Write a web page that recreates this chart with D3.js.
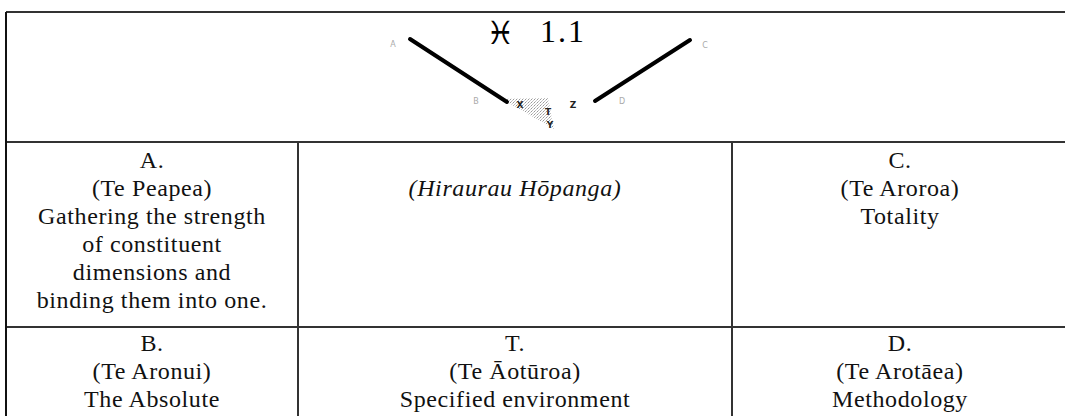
<!DOCTYPE html>
<style>* {padding:0; margin:0; border: 0; outline: 0;} body {background:#fff;}</style>
<body>
<script src="https://d3js.org/d3.v7.min.js"></script>
<script>
// table text, row by row, cell by cell
titleSign = "\u2653\uFE0E"
titleNum = "1.1"
rowOne = [
  ["A.", "(Te Peapea)", "Gathering the strength", "of constituent", "dimensions and", "binding them into one."],
  ["", "(Hiraurau Hōpanga)"],
  ["C.", "(Te Aroroa)", "Totality"]
]
rowTwo = [
  ["B.", "(Te Aronui)", "The Absolute"],
  ["T.", "(Te Āotūroa)", "Specified environment"],
  ["D.", "(Te Arotāea)", "Methodology"]
]
italicCells = [[false, true, false], [false, false, false]]

// diagram, in drawing units
diagLines = [[[20, 1], [117, 64]], [[205, 63], [300, 2]]]
diagShade = [[112, 61], [158, 60], [164, 91]]
diagLabels = [
  ["A", 3, 6, false], ["B", 86, 63, false], ["X", 130, 67, true], ["T", 158, 74, true],
  ["Y", 160, 87, true], ["Z", 183, 67, true], ["D", 232, 63, false], ["C", 315, 7, false]
]
</script>
<script>
width = 1065
height = 416

colEdges = [6, 298, 732, 1068]
rowEdges = [12, 142, 327, 440]
lineGap = 28
firstLine = [0, 26, 24]
serif = "'Liberation Serif', 'Times New Roman', Times, serif"

svg = d3.select('body').append('svg')
  .attr('width', width)
  .attr('height', height)

x = d3.scaleLinear().domain([0, 320]).range([390, 710])
y = d3.scaleLinear().domain([0, 92]).range([38, 130])

defs = svg.append('defs')
pat = defs.append('pattern')
  .attr('id', 'stip')
  .attr('width', 3).attr('height', 3)
  .attr('patternUnits', 'userSpaceOnUse')
pat.append('rect').attr('width', 1).attr('height', 1).attr('fill', '#999')
pat.append('rect').attr('x', 2).attr('y', 1).attr('width', 1).attr('height', 1).attr('fill', '#c8c8c8')
pat.append('rect').attr('x', 1).attr('y', 2).attr('width', 1).attr('height', 1).attr('fill', '#bbb')

// shaded wedge
svg.append('path')
  .attr('d', d3.line().x(function(d){return x(d[0])}).y(function(d){return y(d[1])}).curve(d3.curveLinearClosed)(diagShade))
  .attr('fill', 'url(#stip)')

svg.selectAll('line.diag')
  .data(diagLines)
.enter().append('line')
  .attr('class', 'diag')
  .attr('x1', function(d){return x(d[0][0])})
  .attr('y1', function(d){return y(d[0][1])})
  .attr('x2', function(d){return x(d[1][0])})
  .attr('y2', function(d){return y(d[1][1])})
  .attr('stroke', '#000')
  .attr('stroke-width', 4)
  .attr('stroke-linecap', 'round')

svg.selectAll('text.lab')
  .data(diagLabels)
.enter().append('text')
  .attr('class', 'lab')
  .attr('x', function(d){return x(d[1])})
  .attr('y', function(d){return y(d[2])})
  .attr('text-anchor', 'middle')
  .attr('dominant-baseline', 'central')
  .style('font-family', 'DejaVu Sans')
  .style('font-size', function(d){return d[3] ? '9px' : '8px'})
  .style('font-weight', function(d){return d[3] ? 'bold' : 'normal'})
  .style('fill', function(d){return d[3] ? '#222' : '#aaa'})
  .text(function(d){return d[0]})

svg.append('text')
  .attr('x', 500).attr('y', 44)
  .attr('text-anchor', 'middle')
  .style('font-family', 'DejaVu Serif')
  .style('font-size', '32px')
  .text(titleSign)
svg.append('text')
  .attr('x', 563).attr('y', 42)
  .attr('text-anchor', 'middle')
  .style('font-family', serif)
  .style('font-size', '32px')
  .style('letter-spacing', '2px')
  .text(titleNum)

// cell texts
;[rowOne, rowTwo].forEach(function(row, r){
  row.forEach(function(cell, c){
    cx = (colEdges[c] + colEdges[c+1]) / 2
    svg.append('g').selectAll('text')
      .data(cell)
    .enter().append('text')
      .attr('x', cx)
      .attr('y', function(d, i){return rowEdges[r+1] + firstLine[r+1] + i * lineGap})
      .attr('text-anchor', 'middle')
      .style('font-family', serif)
      .style('font-size', '24px')
      .style('letter-spacing', '0.6px')
      .style('font-style', italicCells[r][c] ? 'italic' : 'normal')
      .style('fill', '#111')
      .text(function(d){return d})
  })
})

// grid
g = svg.append('g').attr('stroke', '#333').attr('stroke-width', 2)
g.selectAll('line.h')
  .data(rowEdges.slice(0, 3))
.enter().append('line')
  .attr('x1', colEdges[0]).attr('x2', colEdges[3])
  .attr('y1', function(d){return d}).attr('y2', function(d){return d})
g.append('line')
  .attr('x1', colEdges[0]).attr('x2', colEdges[0])
  .attr('y1', rowEdges[0]).attr('y2', rowEdges[3])
  .attr('stroke', '#111')
g.selectAll('line.v')
  .data(colEdges.slice(1, 3))
.enter().append('line')
  .attr('x1', function(d){return d}).attr('x2', function(d){return d})
  .attr('y1', rowEdges[1]).attr('y2', rowEdges[3])
</script>
